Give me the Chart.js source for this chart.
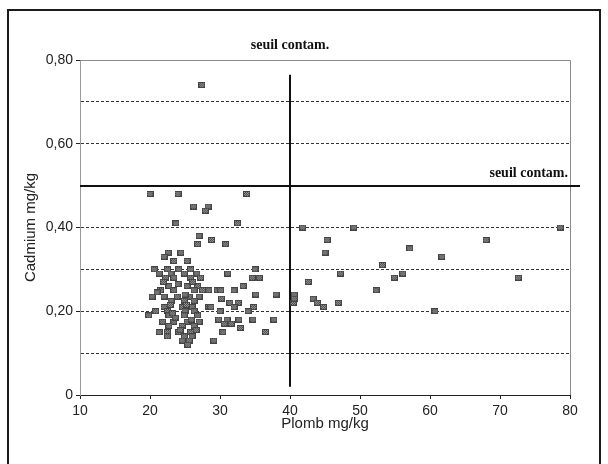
<!DOCTYPE html>
<html>
<head>
<meta charset="utf-8">
<script src="https://cdn.jsdelivr.net/npm/chart.js@4.4.1/dist/chart.umd.min.js"></script>
<style>
  html, body { margin: 0; padding: 0; background: #fff; }
  #wrap { width: 608px; height: 464px; position: relative; }
</style>
</head>
<body>
<div id="wrap"><canvas id="c" width="608" height="464"></canvas></div>
<script>
// Teneurs en plomb (mg/kg) par échantillon
const plomb = [
  // points hauts
  27.4, 20.0, 24.0, 33.8, 26.2, 28.3, 27.9, 23.7, 32.5, 27.0, 28.8, 26.8, 30.8, 22.6, 24.4, 22.0, 23.4, 25.3,
  // nuage principal
  20.6, 22.5, 24.1, 25.8,
  21.3, 23.0, 24.9, 26.7,
  22.2, 23.4, 25.8, 27.2,
  22.7, 25.3, 26.8,
  21.5, 23.4, 26.3, 27.5, 29.6,
  20.3, 22.0, 23.9, 25.6, 27.0,
  23.0, 24.9, 26.3,
  22.0, 24.6, 26.0, 28.4,
  20.8, 22.5, 25.0, 26.3,
  19.8, 22.7, 24.9, 26.8,
  21.8, 23.4, 25.3, 27.0,
  22.7, 24.6, 26.3,
  21.3, 22.5, 24.1, 25.8,
  22.5, 24.9, 26.0,
  24.6, 25.6,
  25.4,
  // nuage principal, valeurs intermédiaires
  21.9, 24.0, 26.1, 22.9, 25.2, 23.6, 25.9, 21.0, 24.3, 26.6, 23.2, 25.0,
  // 28 à 38 mg/kg
  35.0, 31.1, 34.6, 35.6, 33.3, 30.1, 32.0, 28.4, 35.1, 38.0, 30.2, 31.4, 32.6, 32.0, 34.8,
  34.0, 28.7, 30.0, 29.8, 31.0, 32.7, 34.7, 37.7, 30.6, 31.6, 32.9, 30.4, 36.5, 29.1,
  // au-delà du seuil plomb
  41.8, 49.1, 78.6, 45.3, 68.0, 45.0, 57.1, 61.7, 53.2, 47.2, 56.1, 54.9, 72.6, 42.6, 52.3,
  40.6, 40.5, 40.6, 43.3, 43.9, 44.8, 46.9, 60.7
];

// Teneurs en cadmium (mg/kg), même ordre
const cadmium = [
  0.74, 0.48, 0.48, 0.48, 0.45, 0.45, 0.44, 0.41, 0.41, 0.38, 0.37, 0.36, 0.36, 0.34, 0.34, 0.33, 0.32, 0.32,
  0.30, 0.30, 0.30, 0.30,
  0.29, 0.29, 0.29, 0.29,
  0.28, 0.28, 0.28, 0.28,
  0.26, 0.26, 0.26,
  0.25, 0.25, 0.25, 0.25, 0.25,
  0.235, 0.235, 0.235, 0.235, 0.235,
  0.225, 0.225, 0.225,
  0.21, 0.21, 0.21, 0.21,
  0.20, 0.20, 0.20, 0.20,
  0.19, 0.19, 0.19, 0.19,
  0.175, 0.175, 0.175, 0.175,
  0.165, 0.165, 0.165,
  0.15, 0.15, 0.15, 0.15,
  0.14, 0.14, 0.14,
  0.13, 0.13,
  0.12,
  0.27, 0.265, 0.27, 0.215, 0.215, 0.185, 0.18, 0.245, 0.155, 0.155, 0.195, 0.24,
  0.30, 0.29, 0.28, 0.28, 0.26, 0.25, 0.25, 0.25, 0.24, 0.24, 0.23, 0.22, 0.22, 0.21, 0.21,
  0.20, 0.21, 0.20, 0.18, 0.18, 0.18, 0.18, 0.18, 0.17, 0.17, 0.16, 0.15, 0.15, 0.13,
  0.40, 0.40, 0.40, 0.37, 0.37, 0.34, 0.35, 0.33, 0.31, 0.29, 0.29, 0.28, 0.28, 0.27, 0.25,
  0.24, 0.22, 0.23, 0.23, 0.22, 0.21, 0.22, 0.20
];

// Seuils de contamination
const seuilPlomb = 40;
const seuilCadmium = 0.5;
const seuilPlombEtendue = [0.02, 0.765];
const seuilTexte = 'seuil contam.';

// Graduations
const xTicks = [10, 20, 30, 40, 50, 60, 70, 80];
const yTickLabels = { 0: '0', 2: '0,20', 4: '0,40', 6: '0,60', 8: '0,80' };

// Marqueur carré tramé gris
function makeMarker() {
  const w = 7, h = 6;
  const m = document.createElement('canvas');
  m.width = w; m.height = h;
  const g = m.getContext('2d');
  g.fillStyle = '#444';
  g.fillRect(0, 0, w, h);
  g.fillStyle = '#a0a0a0';
  for (let i = 1; i < w - 1; i++) {
    for (let j = 1; j < h - 1; j++) {
      if ((i + j) % 2 === 0) g.fillRect(i, j, 1, 1);
    }
  }
  return m;
}
const marker = makeMarker();

const points = plomb.map((x, i) => ({ x: x, y: cadmium[i] }));

const sans = "'Liberation Sans', Arial, sans-serif";
const serif = "'Liberation Serif', 'Times New Roman', serif";

const seuils = {
  id: 'seuils',
  beforeDatasetsDraw(chart) {
    const { ctx, chartArea: a, scales: { x, y } } = chart;
    ctx.save();
    // cadre de la zone de tracé
    ctx.strokeStyle = '#8a8a8a';
    ctx.lineWidth = 1;
    ctx.beginPath();
    ctx.moveTo(a.left, a.top + 0.5);
    ctx.lineTo(a.right + 0.5, a.top + 0.5);
    ctx.lineTo(a.right + 0.5, a.bottom);
    ctx.stroke();
    // seuil cadmium
    const yc = Math.round(y.getPixelForValue(seuilCadmium));
    ctx.strokeStyle = '#111';
    ctx.lineWidth = 2;
    ctx.beginPath();
    ctx.moveTo(a.left, yc);
    ctx.lineTo(a.right + 10, yc);
    ctx.stroke();
    // seuil plomb
    const xp = Math.round(x.getPixelForValue(seuilPlomb));
    ctx.beginPath();
    ctx.moveTo(xp, y.getPixelForValue(seuilPlombEtendue[0]));
    ctx.lineTo(xp, y.getPixelForValue(seuilPlombEtendue[1]));
    ctx.stroke();
    ctx.restore();
  },
  afterDraw(chart) {
    const { ctx, chartArea: a, scales: { x, y } } = chart;
    ctx.save();
    ctx.fillStyle = '#111';
    ctx.font = 'bold 14px ' + serif;
    ctx.textBaseline = 'alphabetic';
    ctx.textAlign = 'center';
    ctx.fillText(seuilTexte, x.getPixelForValue(seuilPlomb), 49);
    ctx.textAlign = 'right';
    ctx.fillText(seuilTexte, a.right - 2, y.getPixelForValue(seuilCadmium) - 9);
    // cadre extérieur
    ctx.strokeStyle = '#1a1a1a';
    ctx.lineWidth = 2;
    ctx.beginPath();
    ctx.moveTo(8, 470);
    ctx.lineTo(8, 10);
    ctx.lineTo(600, 10);
    ctx.lineTo(600, 470);
    ctx.stroke();
    ctx.restore();
  }
};

new Chart(document.getElementById('c'), {
  type: 'scatter',
  data: {
    datasets: [{
      data: points,
      pointStyle: marker,
      pointRadius: 4,
      pointHoverRadius: 4
    }]
  },
  options: {
    responsive: false,
    animation: false,
    events: [],
    layout: { padding: { left: 8, right: 38, top: 60, bottom: 0 } },
    plugins: { legend: { display: false }, tooltip: { enabled: false } },
    scales: {
      x: {
        type: 'linear',
        min: xTicks[0],
        max: xTicks[xTicks.length - 1],
        afterBuildTicks(scale) { scale.ticks = xTicks.map(v => ({ value: v })); },
        afterFit(scale) { scale.height = 69; },
        grid: { drawOnChartArea: false, tickLength: 4, tickColor: '#222', color: '#222' },
        border: { color: '#222', width: 1 },
        ticks: { color: '#222', font: { family: sans, size: 14 }, padding: 4, maxRotation: 0 },
        title: { display: true, text: 'Plomb mg/kg', color: '#222', font: { family: sans, size: 15 }, padding: { top: 0, bottom: 31 } }
      },
      y: {
        type: 'linear',
        min: 0,
        max: 0.8,
        afterBuildTicks(scale) {
          const t = [];
          for (let k = 0; k <= 8; k++) t.push({ value: k / 10 });
          scale.ticks = t;
        },
        afterFit(scale) { scale.width = 72; },
        grid: {
          color: c => {
            const k = Math.round(c.tick.value * 10);
            return (k === 0 || k === 8) ? 'rgba(0,0,0,0)' : '#333';
          },
          lineWidth: 1,
          tickLength: 4,
          tickColor: c => (Math.round(c.tick.value * 10) % 2 === 0 ? '#222' : 'rgba(0,0,0,0)'),
          tickBorderDash: []
        },
        border: { color: '#9a9a9a', width: 1, dash: [3, 2] },
        ticks: {
          color: '#222',
          font: { family: sans, size: 14 },
          padding: 3,
          callback: v => {
            const k = Math.round(v * 10);
            return yTickLabels[k] !== undefined ? yTickLabels[k] : '';
          }
        },
        title: { display: true, text: 'Cadmium mg/kg', color: '#222', font: { family: sans, size: 15 }, padding: { top: 14, bottom: 0 } }
      }
    }
  },
  plugins: [seuils]
});
</script>
</body>
</html>
